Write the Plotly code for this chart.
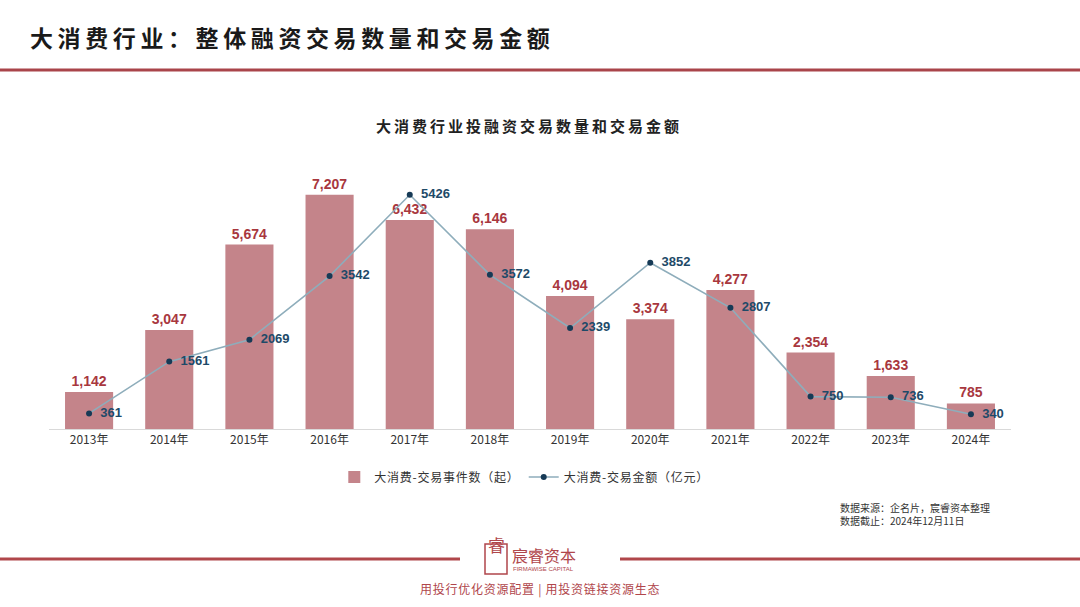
import plotly.graph_objects as go

years = ["2013年", "2014年", "2015年", "2016年", "2017年", "2018年", "2019年", "2020年", "2021年", "2022年", "2023年", "2024年"]
deal_counts = [1142, 3047, 5674, 7207, 6432, 6146, 4094, 3374, 4277, 2354, 1633, 785]
deal_amounts = [361, 1561, 2069, 3542, 5426, 3572, 2339, 3852, 2807, 750, 736, 340]

W, H = 1080, 607
RED = "#b0464b"
BAR = "#c4848a"
LBL_RED = "#a8373e"
LBL_BLUE = "#1e4a68"
CJK = "Noto Sans CJK SC"
SANS = "Liberation Sans, Arial, sans-serif"


def spaced(s, sp="\u2009"):
    return sp.join(list(s))


fig = go.Figure()
fig.add_trace(go.Bar(
    x=years, y=deal_counts, name=spaced("大消费-交易事件数（起）", "\u200a"),
    marker=dict(color=BAR, line=dict(width=0)), width=0.6,
    text=[f"{v:,}" for v in deal_counts], textposition="outside",
    textfont=dict(color=LBL_RED, size=14, family=SANS, weight="bold"),
    cliponaxis=False,
))
fig.add_trace(go.Scatter(
    x=years, y=deal_amounts, name=spaced("大消费-交易金额（亿元）", "\u200a"), yaxis="y2",
    mode="lines+markers+text",
    line=dict(color="#8eadbb", width=1.6),
    marker=dict(color="#163a56", size=6),
    text=["\u2002" + str(v) for v in deal_amounts], textposition="middle right",
    textfont=dict(color=LBL_BLUE, size=13, family=SANS, weight="bold"),
    cliponaxis=False,
))

x0, x1 = 49 / W, 1011 / W
ytop, ybot = 169, 429
ymax = 8000
fig.update_layout(
    width=W, height=H,
    margin=dict(l=0, r=0, t=0, b=0),
    paper_bgcolor="white", plot_bgcolor="white",
    showlegend=True,
    legend=dict(orientation="h", x=0.485, xanchor="center", y=1 - 477 / H, yanchor="middle",
                font=dict(family=CJK, size=12, color="#333333"), itemwidth=30,
                traceorder="normal"),
    xaxis=dict(domain=[x0, x1], range=[-0.5, 11.5], showline=True, linecolor="#d9d9d9", linewidth=1,
               ticks="", showgrid=False,
               tickfont=dict(family=CJK, size=12, color="#333333")),
    yaxis=dict(domain=[1 - ybot / H, 1 - ytop / H], range=[0, ymax], visible=False, showgrid=False),
    yaxis2=dict(overlaying="y", range=[0, ymax * 5426 / 7207], visible=False, showgrid=False),
    font=dict(family=CJK),
)

# header
fig.add_annotation(text="<b>" + spaced("大消费行业：整体融资交易数量和交易金额") + "</b>", xref="paper", yref="paper",
                   x=28 / W, y=1 - 37 / H, xanchor="left", yanchor="middle", showarrow=False,
                   font=dict(family=CJK, size=23, color="#1a1a1a"))
fig.add_shape(type="line", xref="paper", yref="paper", x0=0, x1=1, y0=1 - 70 / H, y1=1 - 70 / H,
              line=dict(color="#a9444a", width=3))
# chart title
fig.add_annotation(text="<b>" + spaced("大消费行业投融资交易数量和交易金额") + "</b>", xref="paper", yref="paper",
                   x=527 / W, y=1 - 125 / H, xanchor="center", yanchor="middle", showarrow=False,
                   font=dict(family=CJK, size=15, color="#222222"))
# source
fig.add_annotation(text="数据来源：企名片，宸睿资本整理<br>数据截止：2024年12月11日", xref="paper", yref="paper",
                   x=838 / W, y=1 - 514 / H, xanchor="left", yanchor="middle", showarrow=False, align="left",
                   font=dict(family=CJK, size=10, color="#333333"))
# footer lines
for a, b in [(0, 460), (620, 1080)]:
    fig.add_shape(type="line", xref="paper", yref="paper", x0=a / W, x1=b / W, y0=1 - 559 / H, y1=1 - 559 / H,
                  line=dict(color="#b0464b", width=3))
# logo
fig.add_shape(type="rect", xref="paper", yref="paper", x0=485 / W, x1=507 / W, y0=1 - 574 / H, y1=1 - 544 / H,
              line=dict(color=RED, width=1.5), fillcolor="white")
fig.add_annotation(text="睿", xref="paper", yref="paper", x=496 / W, y=1 - 559 / H, showarrow=False,
                   font=dict(family=CJK, size=17, color=RED))
fig.add_annotation(text="宸睿资本", xref="paper", yref="paper", x=510 / W, y=1 - 555 / H, xanchor="left",
                   yanchor="middle", showarrow=False, font=dict(family=CJK, size=16, color=RED))
fig.add_annotation(text="FIRMAWISE CAPITAL", xref="paper", yref="paper", x=511 / W, y=1 - 569 / H, xanchor="left",
                   yanchor="middle", showarrow=False, font=dict(family=SANS, size=6, color=RED))
fig.add_annotation(text=spaced("用投行优化资源配置 | 用投资链接资源生态", "\u200a"), xref="paper", yref="paper",
                   x=540 / W, y=1 - 589 / H,
                   xanchor="center", yanchor="middle", showarrow=False,
                   font=dict(family=CJK, size=12, color=RED))

fig.write_html("out.html")
